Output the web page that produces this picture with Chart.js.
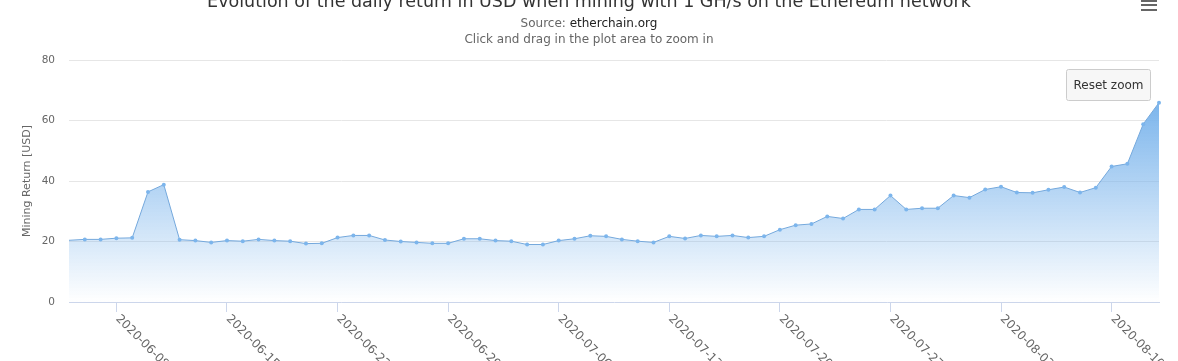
<!DOCTYPE html>
<html>
<head>
<meta charset="utf-8">
<script src="https://cdn.jsdelivr.net/npm/chart.js@4/dist/chart.umd.min.js"></script>
<style>
  html, body { margin: 0; padding: 0; background: #ffffff; }
  #wrap { width: 1178px; height: 361px; position: relative; }
</style>
</head>
<body>
<div id="wrap"><canvas id="c" width="1178" height="361"></canvas></div>
<script>
const dates = [
  '2020-06-05','2020-06-06','2020-06-07','2020-06-08','2020-06-09','2020-06-10','2020-06-11','2020-06-12','2020-06-13','2020-06-14',
  '2020-06-15','2020-06-16','2020-06-17','2020-06-18','2020-06-19','2020-06-20','2020-06-21','2020-06-22','2020-06-23','2020-06-24',
  '2020-06-25','2020-06-26','2020-06-27','2020-06-28','2020-06-29','2020-06-30','2020-07-01','2020-07-02','2020-07-03','2020-07-04',
  '2020-07-05','2020-07-06','2020-07-07','2020-07-08','2020-07-09','2020-07-10','2020-07-11','2020-07-12','2020-07-13','2020-07-14',
  '2020-07-15','2020-07-16','2020-07-17','2020-07-18','2020-07-19','2020-07-20','2020-07-21','2020-07-22','2020-07-23','2020-07-24',
  '2020-07-25','2020-07-26','2020-07-27','2020-07-28','2020-07-29','2020-07-30','2020-07-31','2020-08-01','2020-08-02','2020-08-03',
  '2020-08-04','2020-08-05','2020-08-06','2020-08-07','2020-08-08','2020-08-09','2020-08-10','2020-08-11','2020-08-12','2020-08-13'
];
const miningReturn = [
  20.4, 20.7, 20.7, 21.1, 21.2, 36.4, 38.8, 20.6, 20.3, 19.7,
  20.3, 20.1, 20.7, 20.3, 20.1, 19.3, 19.4, 21.3, 22.0, 22.0,
  20.5, 20.0, 19.7, 19.4, 19.4, 20.9, 20.9, 20.3, 20.1, 19.0,
  19.0, 20.3, 20.9, 21.9, 21.7, 20.7, 20.1, 19.7, 21.7, 21.0,
  22.0, 21.7, 22.0, 21.3, 21.7, 23.9, 25.4, 25.8, 28.3, 27.6,
  30.6, 30.6, 35.2, 30.6, 31.0, 31.0, 35.2, 34.5, 37.2, 38.1,
  36.2, 36.1, 37.1, 38.0, 36.2, 37.8, 44.8, 45.7, 58.8, 65.9
];
const weekTicks = ['2020-06-08','2020-06-15','2020-06-22','2020-06-29','2020-07-06','2020-07-13','2020-07-20','2020-07-27','2020-08-03','2020-08-10'];
const yTicks = [0, 20, 40, 60, 80];

const titleText = 'Evolution of the daily return in USD when mining with 1 GH/s on the Ethereum network';
const sourceLabel = 'Source: ';
const sourceLink = 'etherchain.org';
const zoomHint = 'Click and drag in the plot area to zoom in';
const resetLabel = 'Reset zoom';
const yTitle = 'Mining Return [USD]';

const FONT = '"DejaVu Sans", "Lucida Grande", Verdana, sans-serif';
const BLUE = '124,181,236';

const decorPlugin = {
  id: 'decor',
  afterDraw(chart) {
    const ctx = chart.ctx;
    const cx = chart.width / 2;
    ctx.save();
    // title
    ctx.textBaseline = 'alphabetic';
    ctx.textAlign = 'center';
    ctx.fillStyle = '#333333';
    ctx.font = '17.5px ' + FONT;
    ctx.fillText(titleText, cx, 7);
    // subtitle with link
    ctx.font = '12px ' + FONT;
    const w1 = ctx.measureText(sourceLabel).width;
    const w2 = ctx.measureText(sourceLink).width;
    const sx = cx - (w1 + w2) / 2;
    ctx.textAlign = 'left';
    ctx.fillStyle = '#666666';
    ctx.fillText(sourceLabel, sx, 27);
    ctx.fillStyle = '#222222';
    ctx.fillText(sourceLink, sx + w1, 27);
    ctx.textAlign = 'center';
    ctx.fillStyle = '#666666';
    ctx.fillText(zoomHint, cx, 43);
    // menu icon
    ctx.fillStyle = '#666666';
    ctx.fillRect(1141, 0, 16, 2);
    ctx.fillRect(1141, 4, 16, 2);
    ctx.fillRect(1141, 9, 16, 2);
    // reset zoom button
    ctx.beginPath();
    if (ctx.roundRect) ctx.roundRect(1066.5, 69.5, 84, 31, 2); else ctx.rect(1066.5, 69.5, 84, 31);
    ctx.fillStyle = '#f7f7f7';
    ctx.fill();
    ctx.strokeStyle = '#cccccc';
    ctx.lineWidth = 1;
    ctx.stroke();
    ctx.fillStyle = '#333333';
    ctx.font = '12px ' + FONT;
    ctx.textAlign = 'center';
    ctx.textBaseline = 'middle';
    ctx.fillText(resetLabel, 1108.5, 85.5);
    // rotated x labels
    const xs = chart.scales.x;
    ctx.font = '12px ' + FONT;
    ctx.fillStyle = '#666666';
    ctx.textAlign = 'left';
    ctx.textBaseline = 'middle';
    weekTicks.forEach(lbl => {
      const idx = dates.indexOf(lbl);
      const x = xs.getPixelForValue(idx);
      ctx.save();
      ctx.translate(x + 1, xs.top + 15);
      ctx.rotate(Math.PI / 4);
      ctx.fillText(lbl, 0, 0);
      ctx.restore();
    });
    ctx.restore();
  }
};

new Chart(document.getElementById('c'), {
  type: 'line',
  data: {
    labels: dates,
    datasets: [{
      label: 'Mining Return',
      data: miningReturn,
      borderColor: '#74a8dc',
      borderWidth: 1,
      tension: 0,
      fill: 'origin',
      clip: false,
      pointRadius: (c) => c.dataIndex === 0 ? 0 : 2,
      pointBackgroundColor: '#7cb5ec',
      pointBorderWidth: 0,
      pointHoverRadius: 3,
      backgroundColor: (c) => {
        const chart = c.chart;
        const area = chart.chartArea;
        if (!area) return 'rgba(' + BLUE + ',0.3)';
        const top = chart.scales.y.getPixelForValue(Math.max(...miningReturn));
        const g = chart.ctx.createLinearGradient(0, top, 0, area.bottom);
        g.addColorStop(0, 'rgba(' + BLUE + ',1)');
        g.addColorStop(1, 'rgba(' + BLUE + ',0)');
        return g;
      }
    }]
  },
  options: {
    responsive: false,
    devicePixelRatio: 1,
    animation: false,
    events: [],
    layout: { padding: { top: 60, right: 19, left: 0, bottom: 0 } },
    plugins: {
      legend: { display: false },
      title: { display: false },
      tooltip: { enabled: false }
    },
    scales: {
      x: {
        type: 'category',
        offset: false,
        afterFit(scale) { scale.height = 59; },
        ticks: { display: false, autoSkip: false },
        grid: {
          display: true,
          drawOnChartArea: false,
          drawTicks: true,
          tickLength: 10,
          tickWidth: 1,
          tickColor: (c) => (c.tick && weekTicks.includes(c.tick.label)) ? '#ccd6eb' : 'rgba(0,0,0,0)',
          color: 'rgba(0,0,0,0)'
        },
        border: { display: true, color: '#ccd6eb', width: 1 }
      },
      y: {
        min: 0,
        max: 80,
        afterFit(scale) { scale.width = 69; },
        afterBuildTicks(scale) { scale.ticks = yTicks.map(v => ({ value: v })); },
        ticks: {
          color: '#666666',
          font: { family: FONT, size: 10.5 },
          padding: 14
        },
        grid: {
          drawTicks: false,
          color: (c) => (c.tick && c.tick.value === 0) ? 'rgba(0,0,0,0)' : '#e6e6e6',
          lineWidth: 1
        },
        border: { display: false },
        title: {
          display: true,
          text: yTitle,
          color: '#666666',
          font: { family: FONT, size: 11 },
          padding: { top: 21, bottom: 0 }
        }
      }
    }
  },
  plugins: [decorPlugin]
});
</script>
</body>
</html>
